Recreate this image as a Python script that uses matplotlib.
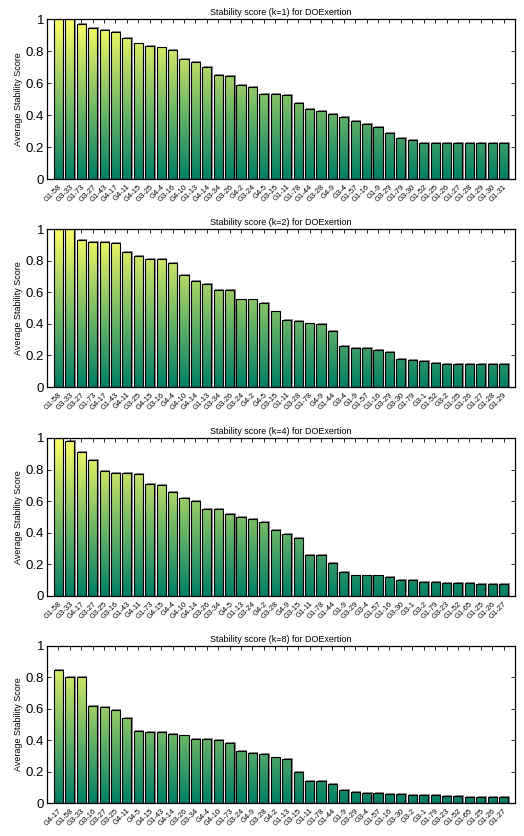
import numpy as np
import matplotlib
matplotlib.use("Agg")
import matplotlib.pyplot as plt
from matplotlib.path import Path
from matplotlib.patches import PathPatch

plt.rcParams["font.family"] = ["Liberation Sans", "DejaVu Sans"]

titles = [
    "Stability score (k=1) for DOExertion",
    "Stability score (k=2) for DOExertion",
    "Stability score (k=4) for DOExertion",
    "Stability score (k=8) for DOExertion",
]

labels_k1 = ["G1-58", "G3-33", "G1-73", "G3-27", "G1-43", "G4-17", "G4-11", "G4-15", "G3-25", "G4-4",
             "G3-16", "G4-10", "G1-13", "G4-14", "G3-34", "G3-26", "G4-2", "G3-24", "G4-5", "G3-15",
             "G1-11", "G1-78", "G1-44", "G3-28", "G4-9", "G3-4", "G1-57", "G1-16", "G1-9", "G3-29",
             "G1-79", "G3-30", "G1-52", "G1-25", "G1-26", "G1-27", "G1-28", "G1-29", "G1-30", "G1-31"]
scores_k1 = [1.0, 1.0, 0.971, 0.946, 0.933, 0.916, 0.883, 0.847, 0.833, 0.822,
             0.805, 0.749, 0.730, 0.703, 0.653, 0.646, 0.586, 0.575, 0.533, 0.531,
             0.525, 0.473, 0.435, 0.423, 0.406, 0.385, 0.364, 0.341, 0.324, 0.289,
             0.259, 0.243, 0.228, 0.224, 0.224, 0.224, 0.224, 0.224, 0.224, 0.224]

labels_k2 = ["G1-58", "G3-33", "G3-27", "G1-73", "G4-17", "G1-43", "G4-11", "G3-25", "G4-15", "G3-16",
             "G4-4", "G4-10", "G4-14", "G1-13", "G3-34", "G3-26", "G3-24", "G4-2", "G4-5", "G3-15",
             "G1-11", "G3-28", "G1-78", "G4-9", "G1-44", "G3-4", "G1-9", "G1-57", "G1-16", "G3-29",
             "G3-30", "G1-79", "G3-1", "G1-52", "G3-2", "G1-25", "G1-26", "G1-27", "G1-28", "G1-29"]
scores_k2 = [1.0, 1.0, 0.930, 0.918, 0.915, 0.911, 0.852, 0.829, 0.808, 0.808,
             0.786, 0.712, 0.674, 0.655, 0.617, 0.617, 0.554, 0.554, 0.533, 0.478,
             0.423, 0.419, 0.402, 0.397, 0.353, 0.258, 0.250, 0.245, 0.233, 0.222,
             0.178, 0.171, 0.167, 0.152, 0.146, 0.144, 0.144, 0.144, 0.144, 0.144]

labels_k4 = ["G1-58", "G3-33", "G4-17", "G3-27", "G3-25", "G3-16", "G1-43", "G4-11", "G1-73", "G4-15",
             "G4-4", "G4-10", "G4-14", "G3-26", "G3-34", "G4-5", "G1-13", "G3-24", "G4-2", "G3-28",
             "G4-9", "G3-15", "G1-11", "G1-78", "G1-44", "G1-9", "G3-29", "G3-4", "G1-57", "G1-16",
             "G3-30", "G3-1", "G3-2", "G1-79", "G3-23", "G1-52", "G1-65", "G1-25", "G1-26", "G1-27"]
scores_k4 = [1.0, 0.98, 0.91, 0.86, 0.79, 0.78, 0.78, 0.77, 0.71, 0.70,
             0.66, 0.62, 0.60, 0.55, 0.55, 0.52, 0.50, 0.49, 0.47, 0.42,
             0.39, 0.37, 0.26, 0.26, 0.21, 0.15, 0.13, 0.13, 0.13, 0.12,
             0.10, 0.10, 0.09, 0.09, 0.085, 0.08, 0.08, 0.075, 0.075, 0.075]

labels_k8 = ["G4-17", "G1-58", "G3-33", "G3-16", "G3-27", "G3-25", "G4-11", "G4-5", "G4-15", "G1-43",
             "G4-14", "G3-26", "G3-34", "G4-4", "G4-10", "G1-73", "G3-24", "G4-9", "G3-28", "G4-2",
             "G1-13", "G3-15", "G1-11", "G1-78", "G1-44", "G1-9", "G3-29", "G3-4", "G1-57", "G1-16",
             "G3-30", "G3-2", "G3-1", "G1-79", "G3-23", "G1-52", "G1-65", "G1-25", "G1-26", "G1-27"]
scores_k8 = [0.85, 0.80, 0.80, 0.62, 0.61, 0.59, 0.54, 0.46, 0.45, 0.45,
             0.44, 0.43, 0.41, 0.41, 0.40, 0.38, 0.33, 0.32, 0.31, 0.29,
             0.28, 0.20, 0.14, 0.14, 0.12, 0.08, 0.07, 0.065, 0.065, 0.06,
             0.055, 0.05, 0.05, 0.05, 0.045, 0.045, 0.04, 0.04, 0.04, 0.04]

panels = [(labels_k1, scores_k1), (labels_k2, scores_k2),
          (labels_k4, scores_k4), (labels_k8, scores_k8)]

# axes boxes in pixels (top, bottom) for a 524x836 canvas
W, H = 524, 836
left_px, right_px = 47, 515
boxes = [(19, 179), (229, 387), (438, 596), (646, 803)]

fig = plt.figure(figsize=(W / 100, H / 100), dpi=100)
grad = np.linspace(0, 1, 256).reshape(-1, 1)

for (labels, scores), (top, bot), title in zip(panels, boxes, titles):
    ax = fig.add_axes([left_px / W, 1 - bot / H, (right_px - left_px) / W, (bot - top) / H])
    x = np.arange(1, len(scores) + 1)

    # grey shadow behind each bar
    ax.bar(x + 0.12, np.array(scores) + 0.006, width=0.8, color="#8a8a8a",
           edgecolor="none", zorder=1)
    bars = ax.bar(x, scores, width=0.8, facecolor="none", edgecolor="black",
                  linewidth=0.8, zorder=3)

    # summer-style vertical gradient clipped to bar shapes
    paths = [b.get_path().transformed(b.get_patch_transform()) for b in bars]
    clip = PathPatch(Path.make_compound_path(*paths), transform=ax.transData,
                     facecolor="none", edgecolor="none")
    ax.add_patch(clip)
    im = ax.imshow(grad, cmap="summer", origin="lower", aspect="auto",
                   extent=[0, len(scores) + 1, 0, 1], zorder=2)
    im.set_clip_path(clip)

    ax.set_xlim(0, len(scores) + 1)
    ax.set_ylim(0, 1)
    ax.set_xticks(x)
    ax.set_xticklabels(labels, rotation=45, ha="right", rotation_mode="anchor",
                       fontsize=5.5)
    ax.set_yticks(np.arange(0, 1.01, 0.2))
    ax.set_yticklabels(["0", "0.2", "0.4", "0.6", "0.8", "1"], fontsize=9.5)
    ax.tick_params(direction="in", top=True, right=True, length=3, width=0.6)
    ax.tick_params(axis="x", pad=3)
    ax.tick_params(axis="y", pad=2)
    for s in ax.spines.values():
        s.set_linewidth(0.9)
    ax.set_ylabel("Average Stability Score", fontsize=6.5, labelpad=2)
    ax.set_title(title, fontsize=6.5, pad=3)

fig.savefig("out.png", dpi=100)
